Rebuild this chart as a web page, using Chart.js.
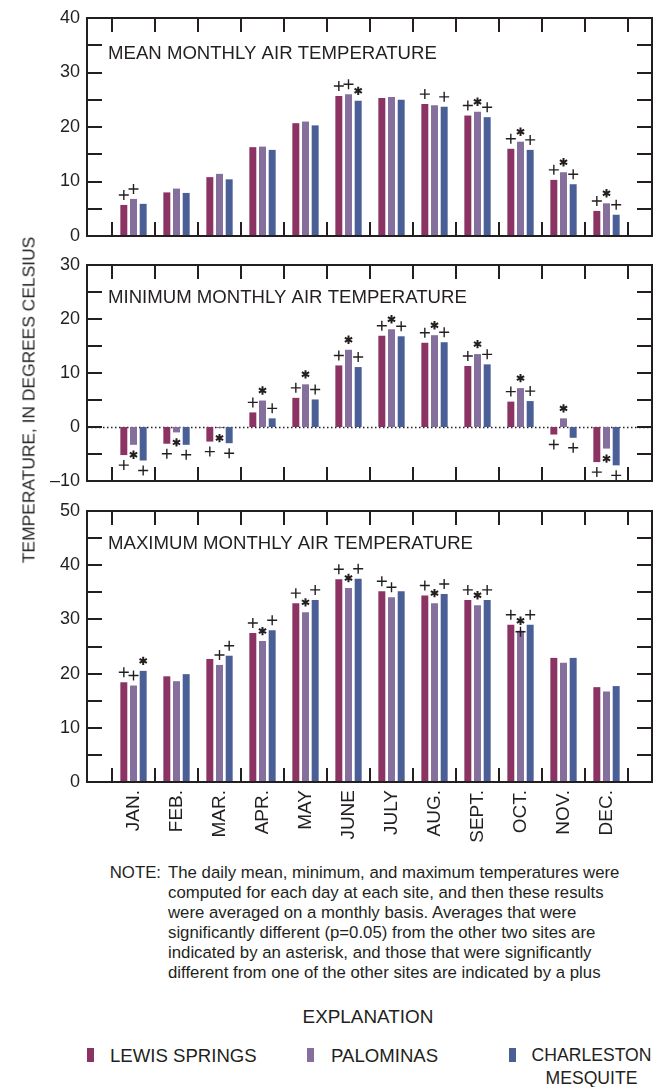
<!DOCTYPE html>
<html>
<head>
<meta charset="utf-8">
<script src="https://cdn.jsdelivr.net/npm/chart.js@4.4.1/dist/chart.umd.min.js"></script>
<style>
  body { margin: 0; background: #fff; }
  #page { position: relative; width: 656px; height: 1087px; overflow: hidden;
    font-family: 'Liberation Sans', Arial, sans-serif; color: #231f20; }
  .panel { position: absolute; left: 0; width: 656px; }
  .panel canvas { display: block; }
  .ytitle { position: absolute; left: 29px; top: 400px; font-size: 17.4px; white-space: nowrap;
    transform: translate(-50%, -50%) rotate(-90deg); }
  .note { position: absolute; font-size: 16.8px; line-height: 20px; white-space: nowrap; }
  .expl { position: absolute; left: 268px; top: 1005px; width: 200px; text-align: center;
    font-size: 18.9px; line-height: 24px; }
  .key { position: absolute; width: 7px; height: 14px; top: 1048px; }
  .keytext { position: absolute; top: 1044px; font-size: 18.6px; line-height: 23px; white-space: nowrap; }
</style>
</head>
<body>
<div id="page">
  <div class="panel" style="top:0"><canvas id="meanChart" width="656" height="250"></canvas></div>
  <div class="panel" style="top:250px"><canvas id="minChart" width="656" height="245"></canvas></div>
  <div class="panel" style="top:495px"><canvas id="maxChart" width="656" height="365"></canvas></div>

  <div class="ytitle">TEMPERATURE, IN DEGREES CELSIUS</div>

  <div class="note" style="left:0;width:161px;text-align:right;top:863px">NOTE:</div>
  <div class="note" style="left:168px;top:863px">The daily mean, minimum, and maximum temperatures were<br>computed for each day at each site, and then these results<br>were averaged on a monthly basis. Averages that were<br>significantly different (p=0.05) from the other two sites are<br>indicated by an asterisk, and those that were significantly<br>different from one of the other sites are indicated by a plus</div>

  <div class="expl">EXPLANATION</div>
  <div class="key" style="left:87px;background:#8b3362"></div>
  <div class="keytext" style="left:110px">LEWIS SPRINGS</div>
  <div class="key" style="left:307px;background:#85709d"></div>
  <div class="keytext" style="left:331px">PALOMINAS</div>
  <div class="key" style="left:509px;background:#4b5f97"></div>
  <div class="keytext" style="left:531px;width:121px;text-align:center;font-size:17.6px">CHARLESTON<br>MESQUITE</div>
</div>

<script>
// Monthly air temperature at three sites, degrees Celsius

const months = ['JAN.', 'FEB.', 'MAR.', 'APR.', 'MAY', 'JUNE', 'JULY', 'AUG.', 'SEPT.', 'OCT.', 'NOV.', 'DEC.'];
const sites = ['LEWIS SPRINGS', 'PALOMINAS', 'CHARLESTON MESQUITE'];
const siteColors = ['#8b3362', '#85709d', '#4b5f97'];

const meanLewis = [5.7, 8.0, 10.8, 16.3, 20.7, 25.7, 25.3, 24.2, 22.1, 16.0, 10.3, 4.6];
const meanPalominas = [6.8, 8.7, 11.4, 16.4, 21.0, 26.0, 25.5, 24.0, 22.8, 17.3, 11.7, 6.0];
const meanCharleston = [5.9, 7.9, 10.4, 15.8, 20.3, 24.8, 25.0, 23.7, 21.8, 15.8, 9.5, 3.9];

const minLewis = [-5.2, -3.1, -2.7, 2.7, 5.4, 11.4, 16.9, 15.6, 11.3, 4.7, -1.4, -6.5];
const minPalominas = [-3.3, -1.0, -0.2, 4.9, 7.9, 14.3, 18.1, 17.0, 13.5, 7.2, 1.6, -4.0];
const minCharleston = [-6.2, -3.3, -3.0, 1.6, 5.1, 11.1, 16.8, 15.7, 11.6, 4.8, -2.0, -7.1];

const maxLewis = [18.4, 19.5, 22.7, 27.5, 33.0, 37.4, 35.2, 34.4, 33.6, 29.0, 22.9, 17.5];
const maxPalominas = [17.8, 18.6, 21.6, 26.0, 31.3, 35.8, 34.1, 33.0, 32.6, 27.9, 22.0, 16.7];
const maxCharleston = [20.5, 19.9, 23.3, 28.0, 33.6, 37.5, 35.2, 34.7, 33.6, 29.0, 22.9, 17.7];

// significance marks per month, one char per site: '+', '*', 'b' (asterisk and plus), ' ' none
const meanMarks = ['++ ', '   ', '   ', '   ', '   ', '++*', '   ', '+ +', '+*+', '+*+', '+*+', '+*+'];
const minMarks = ['+*+', '+*+', '+*+', '+*+', '+*+', '+*+', '+*+', '+*+', '+*+', '+*+', '+*+', '+*+'];
const maxMarks = ['++*', '   ', ' ++', '+*+', '+*+', '+*+', '++ ', '+*+', '+*+', '+b+', '   ', '   '];

const INK = '#231f20';
const FONT = "'Liberation Sans', Arial, sans-serif";
Chart.defaults.font.family = FONT;
Chart.defaults.color = INK;

const drawPlus = (ctx, x, y) => {
  ctx.beginPath();
  ctx.moveTo(x - 5, y); ctx.lineTo(x + 5, y);
  ctx.moveTo(x, y - 5); ctx.lineTo(x, y + 5);
  ctx.lineWidth = 1.4;
  ctx.stroke();
};

const drawStar = (ctx, x, y) => {
  ctx.beginPath();
  for (let k = 0; k < 3; k++) {
    const a = Math.PI / 2 + k * Math.PI / 3;
    ctx.moveTo(x - 4.2 * Math.cos(a), y - 4.2 * Math.sin(a));
    ctx.lineTo(x + 4.2 * Math.cos(a), y + 4.2 * Math.sin(a));
  }
  ctx.lineWidth = 2;
  ctx.stroke();
};

const framePlugin = {
  id: 'frame',
  beforeDatasetsDraw(chart, args, opts) {
    if (!opts.zeroLine) return;
    const { ctx, chartArea: a, scales: { y } } = chart;
    const y0 = Math.round(y.getPixelForValue(0)) + 0.5;
    ctx.save();
    ctx.strokeStyle = INK;
    ctx.lineWidth = 1.5;
    ctx.setLineDash([1.5, 2.5]);
    ctx.beginPath();
    ctx.moveTo(a.left, y0);
    ctx.lineTo(a.right, y0);
    ctx.stroke();
    ctx.restore();
  },
  afterDatasetsDraw(chart, args, opts) {
    const { ctx, chartArea: a, scales: { x, y } } = chart;
    ctx.save();
    ctx.strokeStyle = INK;

    // significance marks
    chart.data.datasets.forEach((ds, d) => {
      const meta = chart.getDatasetMeta(d);
      meta.data.forEach((el, j) => {
        const ch = opts.marks[j][d];
        if (ch === ' ') return;
        const dir = ds.data[j].y >= 0 ? -1 : 1;
        const cy = el.y + dir * 10;
        if (ch === '+') drawPlus(ctx, el.x, cy);
        if (ch === '*') drawStar(ctx, el.x, cy);
        if (ch === 'b') { drawStar(ctx, el.x, cy); drawPlus(ctx, el.x, el.y + 1); }
      });
    });

    // box
    ctx.lineWidth = 2;
    ctx.strokeRect(a.left, a.top, a.right - a.left, a.bottom - a.top);

    // month boundary ticks, top and bottom, pointing in
    ctx.beginPath();
    for (let i = 0; i <= months.length; i++) {
      const px = Math.round(x.getPixelForValue(i - 0.5));
      ctx.moveTo(px, a.top); ctx.lineTo(px, a.top + 14);
      ctx.moveTo(px, a.bottom); ctx.lineTo(px, a.bottom - 14);
    }
    // value ticks every 5 degrees, both sides
    for (let v = y.min + 5; v < y.max; v += 5) {
      const py = Math.round(y.getPixelForValue(v));
      ctx.moveTo(a.left, py); ctx.lineTo(a.left + 15, py);
      ctx.moveTo(a.right, py); ctx.lineTo(a.right - 15, py);
    }
    ctx.stroke();

    // panel title
    ctx.fillStyle = INK;
    ctx.font = '18.6px ' + FONT;
    ctx.textBaseline = 'middle';
    ctx.textAlign = 'left';
    ctx.fillText(opts.title, a.left + 21, a.top + opts.titleOffset);
    ctx.restore();
  },
};

const makePanel = (canvasId, cfg) => {
  const series = [cfg.lewis, cfg.palominas, cfg.charleston];
  const axisH = cfg.showMonths ? 78 : 0;
  const chart = new Chart(document.getElementById(canvasId), {
    type: 'bar',
    data: {
      datasets: series.map((vals, d) => ({
        label: sites[d],
        data: vals.map((v, i) => ({ x: i, y: v })),
        backgroundColor: siteColors[d],
        borderWidth: 0,
        categoryPercentage: 0.675,
        barPercentage: 0.72,
      })),
    },
    options: {
      responsive: false,
      animation: false,
      layout: { padding: { top: cfg.area[0], bottom: cfg.area[1] - axisH, left: 0, right: 4 } },
      plugins: {
        legend: { display: false },
        tooltip: { enabled: false },
        frame: { title: cfg.title, titleOffset: cfg.titleOffset, marks: cfg.marks, zeroLine: cfg.min < 0 },
      },
      scales: {
        x: {
          type: 'linear',
          offset: false,
          min: -1.0814,
          max: 12.058,
          display: cfg.showMonths,
          afterBuildTicks: (s) => { s.ticks = months.map((m, i) => ({ value: i })); },
          afterFit: (s) => {
            if (cfg.showMonths) s.height = axisH;
            s.paddingLeft = 0;
            s.paddingRight = 0;
          },
          grid: { display: false, drawTicks: false, offset: false },
          border: { display: false },
          ticks: {
            autoSkip: false,
            minRotation: 90,
            maxRotation: 90,
            padding: 8,
            color: INK,
            font: { size: 19 },
            callback: (v) => months[v] ?? '',
          },
        },
        y: {
          min: cfg.min,
          max: cfg.max,
          afterFit: (s) => {
            s.width = 87;
            s.paddingTop = 0;
            s.paddingBottom = 0;
          },
          grid: { display: false, drawTicks: false },
          border: { display: false },
          ticks: {
            stepSize: 10,
            padding: 7,
            color: INK,
            font: { size: 18 },
            callback: (v) => (v < 0 ? '\u2013' + Math.abs(v) : String(v)),
          },
        },
      },
    },
    plugins: [framePlugin],
  });

  // safety: nudge layout padding if the plot box is not where the figure has it
  for (let k = 0; k < 3; k++) {
    const a = chart.chartArea;
    const pad = chart.options.layout.padding;
    const dTop = cfg.area[0] - a.top;
    const dBottom = (chart.height - cfg.area[1]) - a.bottom;
    if (Math.abs(dTop) < 0.5 && Math.abs(dBottom) < 0.5) break;
    pad.top += dTop;
    pad.bottom -= dBottom;
    chart.update();
  }
  return chart;
};

makePanel('meanChart', {
  title: 'MEAN MONTHLY AIR TEMPERATURE', titleOffset: 36,
  lewis: meanLewis, palominas: meanPalominas, charleston: meanCharleston, marks: meanMarks,
  min: 0, max: 40, area: [18, 14], showMonths: false,
});

makePanel('minChart', {
  title: 'MINIMUM MONTHLY AIR TEMPERATURE', titleOffset: 33,
  lewis: minLewis, palominas: minPalominas, charleston: minCharleston, marks: minMarks,
  min: -10, max: 30, area: [15, 14], showMonths: false,
});

makePanel('maxChart', {
  title: 'MAXIMUM MONTHLY AIR TEMPERATURE', titleOffset: 33,
  lewis: maxLewis, palominas: maxPalominas, charleston: maxCharleston, marks: maxMarks,
  min: 0, max: 50, area: [16, 78], showMonths: true,
});
</script>
</body>
</html>
